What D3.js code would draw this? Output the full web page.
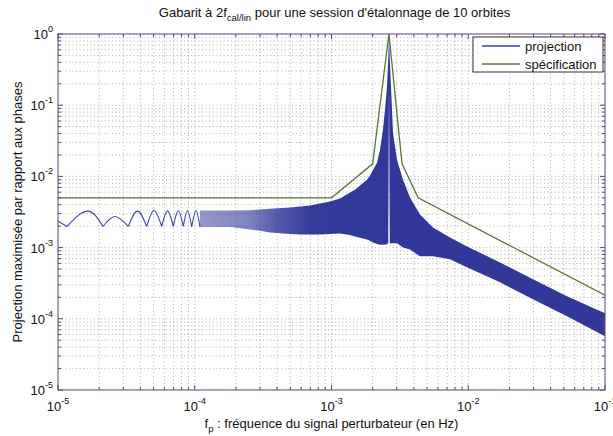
<!DOCTYPE html>
<html><head><meta charset="utf-8">
<script src="https://cdn.jsdelivr.net/npm/d3@7"></script>
<style>
body{margin:0;background:#fff}
svg{display:block}
text{font-family:"Liberation Sans",Arial,Helvetica,sans-serif;fill:#111}
</style>
</head><body>
<svg id="c" width="613" height="436"></svg>
<script>
// ---------- data ----------
const xMajor = [1e-5, 1e-4, 1e-3, 1e-2, 1e-1];
const xMajorExp = ["-5", "-4", "-3", "-2", "-1"];
const yMajor = [1e0, 1e-1, 1e-2, 1e-3, 1e-4, 1e-5];
const yMajorExp = ["0", "-1", "-2", "-3", "-4", "-5"];

// specification (gabarit)
const specFreq = [1e-5, 1e-3, 2.0e-3, 2.63e-3, 3.28e-3, 4.3e-3, 1e-1];
const specVal  = [5e-3, 5e-3, 1.5e-2, 1.0, 1.5e-2, 5e-3, 2.15e-4];

// projection: individual lobes at low frequency (start, then min/max alternating)
const lobeFreq = [1e-5, 1.164e-5, 1.643e-5, 2.133e-5, 2.61e-5, 3.266e-5, 3.814e-5, 4.453e-5,
  5.035e-5, 5.731e-5, 6.32e-5, 6.966e-5, 7.58e-5, 8.247e-5, 8.85e-5, 9.50e-5, 1.021e-4, 1.092e-4];
const lobeVal = [2.35e-3, 1.98e-3, 3.25e-3, 1.98e-3, 2.74e-3, 1.98e-3, 3.25e-3, 1.98e-3,
  3.32e-3, 1.98e-3, 3.28e-3, 1.98e-3, 3.30e-3, 1.98e-3, 3.30e-3, 1.95e-3, 3.30e-3, 1.95e-3];

// projection: dense band envelope, below the line frequency
const bandLeftFreq = [1.092e-4, 1.81e-4, 2.54e-4, 3.0e-4, 3.55e-4, 4.97e-4, 5.89e-4, 6.97e-4,
  8.24e-4, 9.75e-4, 1.154e-3, 1.366e-3, 1.485e-3, 1.616e-3, 1.818e-3, 1.912e-3, 1.978e-3,
  2.151e-3, 2.263e-3, 2.379e-3, 2.461e-3, 2.546e-3, 2.60e-3, 2.633e-3];
const bandLeftUpper = [3.32e-3, 3.32e-3, 3.35e-3, 3.43e-3, 3.5e-3, 3.66e-3, 3.78e-3, 3.90e-3,
  4.16e-3, 4.44e-3, 4.88e-3, 5.93e-3, 6.5e-3, 7.43e-3, 9.0e-3, 1.02e-2, 1.167e-2,
  1.56e-2, 2.37e-2, 4.52e-2, 8.63e-2, 0.181, 0.45, 1.0];
const bandLeftLower = [1.95e-3, 1.95e-3, 1.80e-3, 1.72e-3, 1.63e-3, 1.55e-3, 1.53e-3, 1.53e-3,
  1.53e-3, 1.55e-3, 1.58e-3, 1.50e-3, 1.43e-3, 1.38e-3, 1.30e-3, 1.25e-3, 1.2e-3,
  1.12e-3, 1.1e-3, 1.1e-3, 1.1e-3, 1.12e-3, 1.15e-3, 0.2];

// projection: dense band envelope, above the line frequency
const bandRightFreq = [2.633e-3, 2.667e-3, 2.723e-3, 2.816e-3, 3.013e-3, 3.333e-3, 3.75e-3,
  4.437e-3, 5.525e-3, 7.354e-3, 9.79e-3, 1.707e-2, 2.975e-2, 5.27e-2, 1e-1];
const bandRightUpper = [1.0, 0.45, 0.181, 0.041, 0.0172, 9.0e-3, 5.05e-3,
  2.92e-3, 1.92e-3, 1.39e-3, 1.04e-3, 6.2e-4, 3.59e-4, 2.07e-4, 1.2e-4];
const bandRightLower = [0.2, 1.15e-3, 1.15e-3, 1.15e-3, 1.15e-3, 1.0e-3, 9.44e-4,
  7.53e-4, 7.53e-4, 6.84e-4, 5.28e-4, 3.26e-4, 1.88e-4, 1.09e-4, 5.7e-5];

const legendLabels = ["projection", "spécification"];

// ---------- layout ----------
const m = {l: 58, r: 605, t: 34, b: 390};
const cBlue = "#3a44aa", cBand = "#2a3296", cGreen = "#56763a", cFrame = "#5e4470";

const x = d3.scaleLog().domain([1e-5, 1e-1]).range([m.l, m.r]);
const y = d3.scaleLog().domain([1e-5, 1]).range([m.b, m.t]);
const svg = d3.select("#c");
const defs = svg.append("defs");
defs.append("clipPath").attr("id", "clip").append("rect")
  .attr("x", m.l).attr("y", m.t).attr("width", m.r - m.l).attr("height", m.b - m.t);

// grid (major + minor, dotted)
const gGrid = svg.append("g").attr("stroke", "#9a9a9a").attr("stroke-width", 0.8)
  .attr("stroke-dasharray", "1,2.6");
x.ticks().forEach(v => {
  if (v <= 1e-5 || v >= 1e-1) return;
  gGrid.append("line").attr("x1", x(v)).attr("x2", x(v)).attr("y1", m.t).attr("y2", m.b);
});
y.ticks().forEach(v => {
  if (v <= 1e-5 || v >= 1) return;
  gGrid.append("line").attr("y1", y(v)).attr("y2", y(v)).attr("x1", m.l).attr("x2", m.r);
});

// ---------- data marks ----------
const gData = svg.append("g").attr("clip-path", "url(#clip)");

// gradient for the striped part of the band
const xa = x(bandLeftFreq[0]), xb = x(bandLeftFreq[bandLeftFreq.length - 1]);
const grad = defs.append("linearGradient").attr("id", "bandGrad")
  .attr("gradientUnits", "userSpaceOnUse").attr("x1", xa).attr("x2", xb).attr("y1", 0).attr("y2", 0);
[[1.092e-4, 0.5], [2.5e-4, 0.6], [4e-4, 0.8], [7e-4, 0.95], [2.633e-3, 0.97]].forEach(s => {
  grad.append("stop").attr("offset", (x(s[0]) - xa) / (xb - xa))
    .attr("stop-color", cBand).attr("stop-opacity", s[1]);
});

const area = d3.area().x(d => x(d.f)).y0(d => y(d.lo)).y1(d => y(d.hi));
const leftBand = bandLeftFreq.map((f, i) => ({f, hi: bandLeftUpper[i], lo: bandLeftLower[i]}));
const rightBand = bandRightFreq.map((f, i) => ({f, hi: bandRightUpper[i], lo: bandRightLower[i]}));
gData.append("path").attr("d", area(leftBand)).attr("fill", "url(#bandGrad)");
gData.append("path").attr("d", area(rightBand)).attr("fill", cBand).attr("fill-opacity", 0.97);

// lobes
const lobePts = lobeFreq.map((f, i) => [f, lobeVal[i]]);
const lineNat = d3.line().x(d => x(d[0])).y(d => y(d[1])).curve(d3.curveNatural);
let dLobes = lineNat([lobePts[0], lobePts[1]]);
for (let i = 1; i + 2 < lobePts.length; i += 2) {
  dLobes += lineNat([lobePts[i], lobePts[i + 1], lobePts[i + 2]]);
}
gData.append("path").attr("d", dLobes).attr("fill", "none").attr("stroke", cBlue).attr("stroke-width", 1.1);

// specification
const specPts = specFreq.map((f, i) => [f, specVal[i]]);
gData.append("path").attr("d", d3.line().x(d => x(d[0])).y(d => y(d[1]))(specPts))
  .attr("fill", "none").attr("stroke", cGreen).attr("stroke-width", 1.3);

// ---------- frame and ticks ----------
const gAx = svg.append("g").attr("stroke", cFrame).attr("stroke-width", 1);
gAx.append("rect").attr("x", m.l).attr("y", m.t).attr("width", m.r - m.l).attr("height", m.b - m.t)
  .attr("fill", "none");
const isMajor = v => Math.abs(Math.log10(v) - Math.round(Math.log10(v))) < 1e-9;
x.ticks().forEach(v => {
  const L = isMajor(v) ? 5 : 3, px = x(v);
  gAx.append("line").attr("x1", px).attr("x2", px).attr("y1", m.b).attr("y2", m.b - L);
  gAx.append("line").attr("x1", px).attr("x2", px).attr("y1", m.t).attr("y2", m.t + L);
});
y.ticks().forEach(v => {
  const L = isMajor(v) ? 5 : 3, py = y(v);
  gAx.append("line").attr("y1", py).attr("y2", py).attr("x1", m.l).attr("x2", m.l + L);
  gAx.append("line").attr("y1", py).attr("y2", py).attr("x1", m.r).attr("x2", m.r - L);
});

// tick labels
xMajor.forEach((v, i) => {
  const t = svg.append("text").attr("x", x(v)).attr("y", m.b + 21).attr("text-anchor", "middle")
    .attr("font-size", 13);
  t.append("tspan").text("10");
  t.append("tspan").attr("dy", -7).attr("font-size", 9).text(xMajorExp[i]);
});
yMajor.forEach((v, i) => {
  const t = svg.append("text").attr("x", m.l - 5).attr("y", y(v) + 5).attr("text-anchor", "end")
    .attr("font-size", 13);
  t.append("tspan").text("10");
  t.append("tspan").attr("dy", -7).attr("font-size", 9).text(yMajorExp[i]);
});

// title
const title = svg.append("text").attr("x", (m.l + m.r) / 2 + 3).attr("y", 17)
  .attr("text-anchor", "middle").attr("font-size", 13);
title.append("tspan").text("Gabarit à 2f");
title.append("tspan").attr("dy", 4).attr("font-size", 9.5).text("cal/lin");
title.append("tspan").attr("dy", -4).text(" pour une session d'étalonnage de 10 orbites");

// x label
const xl = svg.append("text").attr("x", (m.l + m.r) / 2).attr("y", 428)
  .attr("text-anchor", "middle").attr("font-size", 13);
xl.append("tspan").text("f");
xl.append("tspan").attr("dy", 4).attr("font-size", 9.5).text("p");
xl.append("tspan").attr("dy", -4).text(" : fréquence du signal perturbateur (en Hz)");

// y label
svg.append("text").attr("transform", `translate(22,${(m.t + m.b) / 2}) rotate(-90)`)
  .attr("text-anchor", "middle").attr("font-size", 13)
  .text("Projection maximisée par rapport aux phases");

// legend
const lg = svg.append("g");
lg.append("rect").attr("x", 473).attr("y", 37).attr("width", 130).attr("height", 35)
  .attr("fill", "#fff").attr("stroke", "#333").attr("stroke-width", 1);
[cBlue, cGreen].forEach((c, i) => {
  const yy = 46 + i * 18;
  lg.append("line").attr("x1", 482).attr("x2", 520).attr("y1", yy).attr("y2", yy)
    .attr("stroke", c).attr("stroke-width", 1.3);
  lg.append("text").attr("x", 525).attr("y", yy + 4.5).attr("font-size", 13).text(legendLabels[i]);
});
</script>
</body></html>
